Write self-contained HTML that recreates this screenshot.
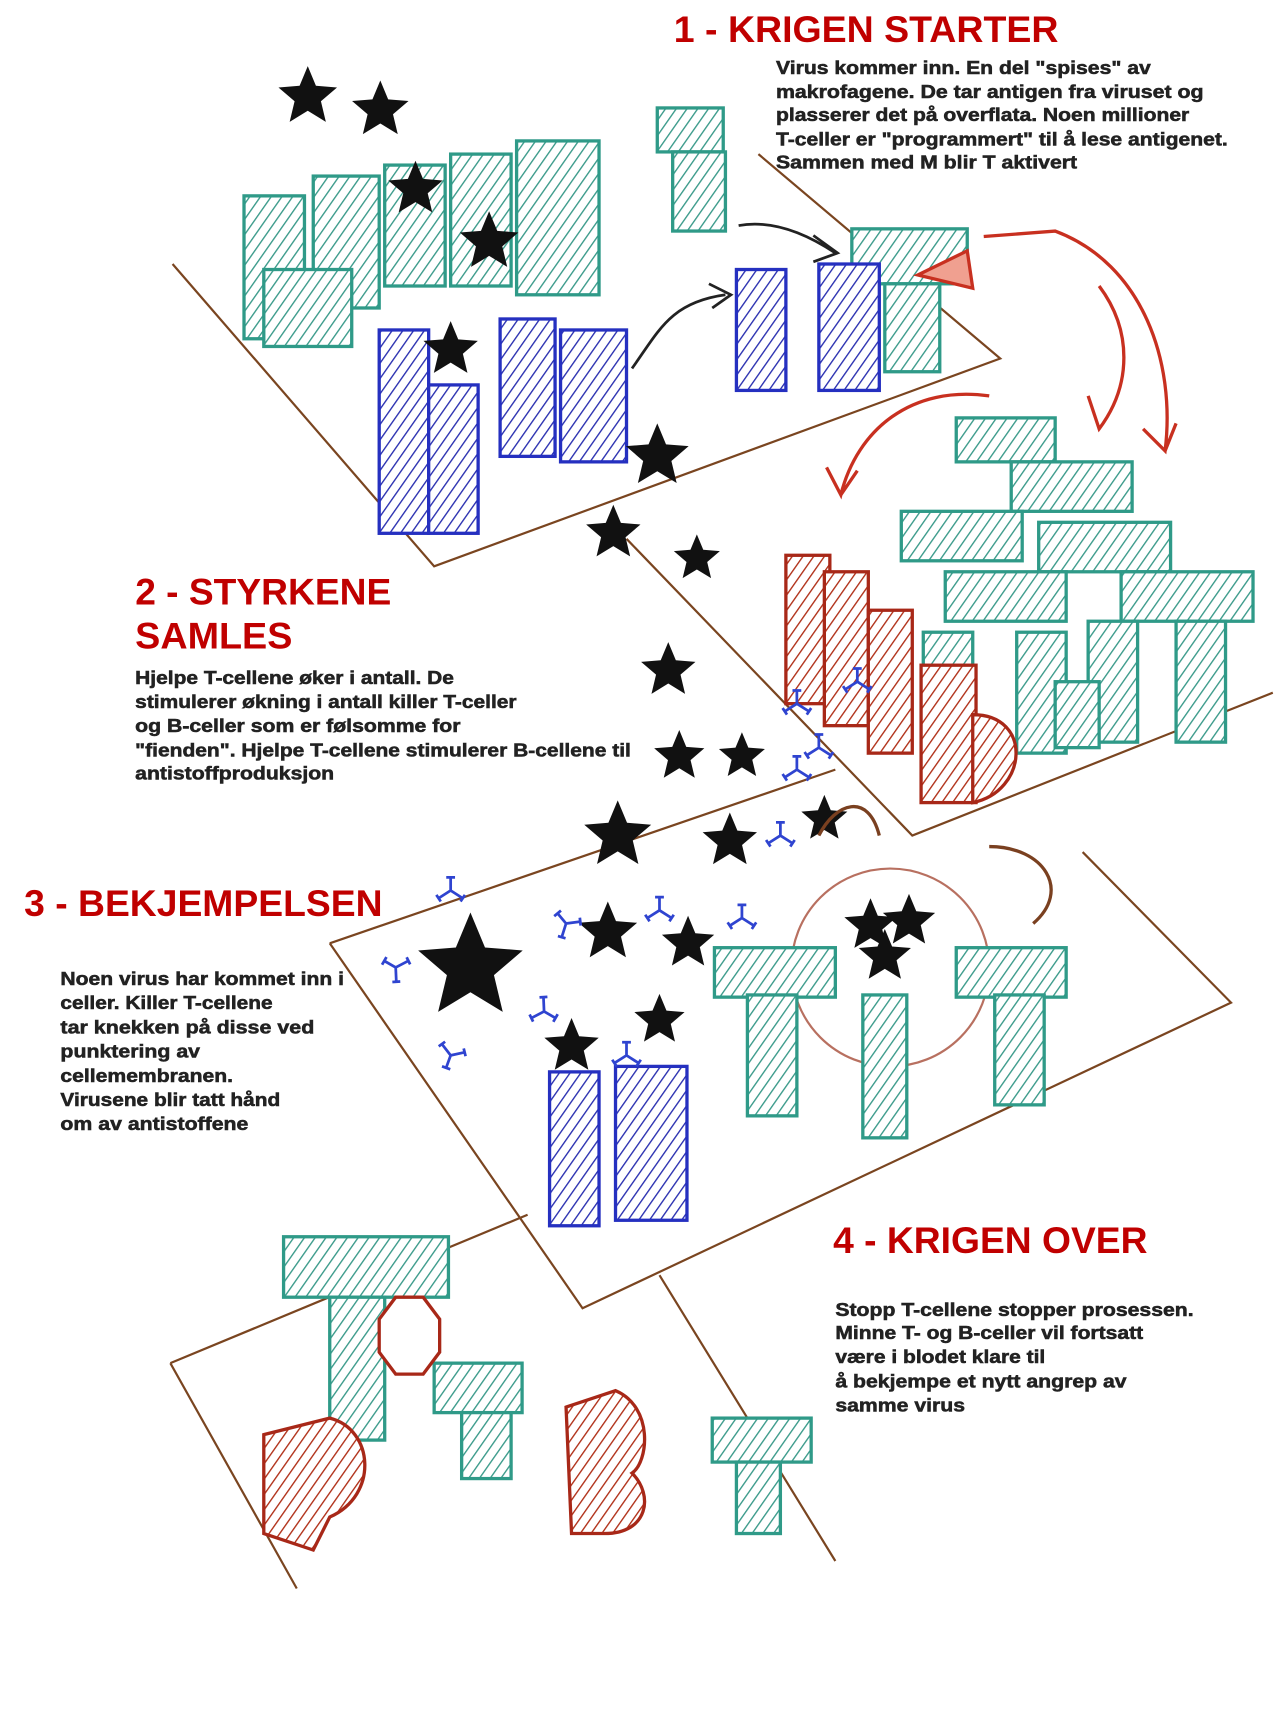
<!DOCTYPE html>
<html><head><meta charset="utf-8"><style>
html,body{margin:0;padding:0;background:#fff}
svg{display:block}
.t{font-family:"Liberation Sans",Arial,sans-serif;font-weight:bold;fill:#c00000;font-size:34px}
.p{font-family:"Liberation Sans",Arial,sans-serif;font-weight:bold;fill:#222;stroke:#222;stroke-width:0.5;font-size:17px}
</style></head><body>
<svg width="1275" height="1725" viewBox="0 0 1160 1569" xmlns="http://www.w3.org/2000/svg">
<defs>
<pattern id="ht" width="8" height="8" patternUnits="userSpaceOnUse" patternTransform="rotate(35)"><rect width="8" height="8" fill="#fff"/><line x1="0" y1="0" x2="0" y2="8" stroke="#3a9a8a" stroke-width="2.5"/></pattern>
<pattern id="hb" width="8" height="8" patternUnits="userSpaceOnUse" patternTransform="rotate(35)"><rect width="8" height="8" fill="#fff"/><line x1="0" y1="0" x2="0" y2="8" stroke="#2a30b0" stroke-width="2.5"/></pattern>
<pattern id="hr" width="8" height="8" patternUnits="userSpaceOnUse" patternTransform="rotate(35)"><rect width="8" height="8" fill="#fff"/><line x1="0" y1="0" x2="0" y2="8" stroke="#b03018" stroke-width="2.5"/></pattern>
<path id="st" d="M0,-1 L.265,-.364 L.951,-.309 L.428,.139 L.588,.809 L0,.45 L-.588,.809 L-.428,.139 L-.951,-.309 L-.265,-.364Z" fill="#111"/>
<g id="ab" fill="none" stroke="#2f44d0" stroke-width="2.5"><path d="M0,0 L0,-12 M0,0 L-11,7 M0,0 L11,7"/><path d="M-4,-12 h8 M-13,4 l4,6 M13,4 l-4,6"/></g>
</defs>
<rect width="1160" height="1569" fill="#fff"/>
<g stroke="#7a4520" stroke-width="2" fill="none">
<path d="M157,240 L395,515 L910,326 L690,140"/>
<path d="M570,490 L830,760 L1158,630"/>
<path d="M300,858 L760,700 M300,858 L530,1190 L1120,912 L985,775"/>
<path d="M155,1240 L480,1105 M155,1240 L270,1445 M600,1160 L760,1420"/>
</g>
<g stroke="#2f9a88" stroke-width="3" fill="url(#ht)">
<rect x="222" y="178" width="55" height="130"/><rect x="285" y="160" width="60" height="120"/><rect x="350" y="150" width="55" height="110"/><rect x="410" y="140" width="55" height="120"/><rect x="470" y="128" width="75" height="140"/><rect x="240" y="245" width="80" height="70"/>
<rect x="598" y="98" width="60" height="40"/><rect x="612" y="138" width="48" height="72"/>
<rect x="775" y="208" width="105" height="50"/><rect x="805" y="258" width="50" height="80"/>
</g>
<g stroke="#2530c0" stroke-width="3" fill="url(#hb)">
<rect x="345" y="300" width="45" height="185"/><rect x="390" y="350" width="45" height="135"/><rect x="455" y="290" width="50" height="125"/><rect x="510" y="300" width="60" height="120"/><rect x="670" y="245" width="45" height="110"/><rect x="745" y="240" width="55" height="115"/><rect x="500" y="975" width="45" height="140"/><rect x="560" y="970" width="65" height="140"/>
</g>
<g stroke="#222" stroke-width="2.5" fill="none"><path d="M575,335 C600,300 610,275 660,268 M645,258 L665,268 L648,280"/><path d="M672,205 C700,200 730,210 760,230 M740,214 L762,230 L740,238"/></g>
<g stroke="#c83020" stroke-width="3" fill="none"><path d="M895,215 L960,210 C1040,240 1070,330 1060,410 L1040,390 M1060,410 L1070,385"/><path d="M1000,260 C1030,300 1030,350 1000,390 L990,360"/><path d="M900,360 C830,350 780,390 765,450 L752,425 M765,450 L780,428"/><path d="M835,250 L880,228 L885,262 Z" fill="#f0a090"/></g>
<g stroke="#2f9a88" stroke-width="3" fill="url(#ht)">
<rect x="870" y="380" width="90" height="40"/><rect x="920" y="420" width="110" height="45"/><rect x="820" y="465" width="110" height="45"/><rect x="945" y="475" width="120" height="45"/><rect x="860" y="520" width="110" height="45"/><rect x="1020" y="520" width="120" height="45"/><rect x="840" y="575" width="45" height="95"/><rect x="925" y="575" width="45" height="110"/><rect x="990" y="565" width="45" height="110"/><rect x="1070" y="565" width="45" height="110"/><rect x="960" y="620" width="40" height="60"/>
</g>
<g stroke="#a82818" stroke-width="3" fill="url(#hr)">
<rect x="715" y="505" width="40" height="135"/><rect x="750" y="520" width="40" height="140"/><rect x="790" y="555" width="40" height="130"/><rect x="838" y="605" width="50" height="125"/><path d="M885,650 C940,650 935,720 885,730 Z"/>
</g>
<g>
<use href="#st" transform="translate(280,88) scale(28)"/><use href="#st" transform="translate(346,100) scale(27)"/><use href="#st" transform="translate(378,172) scale(26)"/><use href="#st" transform="translate(445,220) scale(28)"/><use href="#st" transform="translate(410,318) scale(26)"/><use href="#st" transform="translate(598,415) scale(30)"/><use href="#st" transform="translate(558,485) scale(26)"/><use href="#st" transform="translate(634,508) scale(22)"/><use href="#st" transform="translate(608,610) scale(26)"/><use href="#st" transform="translate(618,688) scale(24)"/><use href="#st" transform="translate(675,688) scale(22)"/><use href="#st" transform="translate(562,760) scale(32)"/><use href="#st" transform="translate(664,765) scale(26)"/><use href="#st" transform="translate(750,745) scale(22)"/><use href="#st" transform="translate(428,880) scale(50)"/><use href="#st" transform="translate(553,848) scale(28)"/><use href="#st" transform="translate(626,858) scale(25)"/><use href="#st" transform="translate(600,928) scale(24)"/><use href="#st" transform="translate(520,952) scale(26)"/><use href="#st" transform="translate(792,842) scale(25)"/><use href="#st" transform="translate(827,838) scale(25)"/><use href="#st" transform="translate(805,870) scale(25)"/>
</g>
<g>
<use href="#ab" transform="translate(410,810)"/><use href="#ab" transform="translate(360,880) rotate(-60)"/><use href="#ab" transform="translate(410,960) rotate(200)"/><use href="#ab" transform="translate(495,920) rotate(120)"/><use href="#ab" transform="translate(515,840) rotate(-40)"/><use href="#ab" transform="translate(600,828)"/><use href="#ab" transform="translate(675,835)"/><use href="#ab" transform="translate(710,760)"/><use href="#ab" transform="translate(725,700)"/><use href="#ab" transform="translate(745,680)"/><use href="#ab" transform="translate(725,640)"/><use href="#ab" transform="translate(780,620)"/><use href="#ab" transform="translate(570,960)"/>
</g>
<circle cx="810" cy="880" r="90" fill="none" stroke="#b87060" stroke-width="2"/>
<path d="M745,760 C760,730 790,720 800,760 M900,770 C950,770 975,810 940,840" fill="none" stroke="#7a4020" stroke-width="3"/>
<g stroke="#2f9a88" stroke-width="3" fill="url(#ht)">
<rect x="650" y="862" width="110" height="45"/><rect x="680" y="905" width="45" height="110"/><rect x="870" y="862" width="100" height="45"/><rect x="905" y="905" width="45" height="100"/><rect x="785" y="905" width="40" height="130"/>
</g>
<g stroke="#2f9a88" stroke-width="3" fill="url(#ht)">
<rect x="258" y="1125" width="150" height="55"/><rect x="300" y="1180" width="50" height="130"/><rect x="395" y="1240" width="80" height="45"/><rect x="420" y="1285" width="45" height="60"/><rect x="648" y="1290" width="90" height="40"/><rect x="670" y="1330" width="40" height="65"/>
</g>
<g stroke="#a82818" stroke-width="3" fill="url(#hr)">
<polygon points="360,1180 385,1180 400,1200 400,1230 385,1250 360,1250 345,1230 345,1200" fill="#fff"/>
<path d="M240,1305 L300,1290 C340,1300 345,1360 300,1380 L285,1410 L240,1395 Z"/>
<path d="M515,1280 L560,1265 C595,1280 590,1330 575,1340 C595,1360 590,1395 550,1395 L520,1395 Z"/>
</g>
<text class="t" x="613" y="38" textLength="350" lengthAdjust="spacingAndGlyphs">1 - KRIGEN STARTER</text>
<g class="p">
<text x="706" y="67" textLength="341" lengthAdjust="spacingAndGlyphs">Virus kommer inn. En del "spises" av</text>
<text x="706" y="89" textLength="389" lengthAdjust="spacingAndGlyphs">makrofagene. De tar antigen fra viruset og</text>
<text x="706" y="110" textLength="376" lengthAdjust="spacingAndGlyphs">plasserer det på overflata. Noen millioner</text>
<text x="706" y="132" textLength="411" lengthAdjust="spacingAndGlyphs">T-celler er "programmert" til å lese antigenet.</text>
<text x="706" y="153" textLength="274" lengthAdjust="spacingAndGlyphs">Sammen med M blir T aktivert</text>
</g>
<text class="t" x="123" y="550" textLength="233" lengthAdjust="spacingAndGlyphs">2 - STYRKENE</text>
<text class="t" x="123" y="590" textLength="143" lengthAdjust="spacingAndGlyphs">SAMLES</text>
<g class="p">
<text x="123" y="622" textLength="290" lengthAdjust="spacingAndGlyphs">Hjelpe T-cellene øker i antall. De</text>
<text x="123" y="644" textLength="347" lengthAdjust="spacingAndGlyphs">stimulerer økning i antall killer T-celler</text>
<text x="123" y="666" textLength="296" lengthAdjust="spacingAndGlyphs">og B-celler som er følsomme for</text>
<text x="123" y="688" textLength="451" lengthAdjust="spacingAndGlyphs">"fienden". Hjelpe T-cellene stimulerer B-cellene til</text>
<text x="123" y="709" textLength="181" lengthAdjust="spacingAndGlyphs">antistoffproduksjon</text>
</g>
<text class="t" x="22" y="833" textLength="326" lengthAdjust="spacingAndGlyphs">3 - BEKJEMPELSEN</text>
<g class="p">
<text x="55" y="896" textLength="258" lengthAdjust="spacingAndGlyphs">Noen virus har kommet inn i</text>
<text x="55" y="918" textLength="193" lengthAdjust="spacingAndGlyphs">celler. Killer T-cellene</text>
<text x="55" y="940" textLength="231" lengthAdjust="spacingAndGlyphs">tar knekken på disse ved</text>
<text x="55" y="962" textLength="127" lengthAdjust="spacingAndGlyphs">punktering av</text>
<text x="55" y="984" textLength="157" lengthAdjust="spacingAndGlyphs">cellemembranen.</text>
<text x="55" y="1006" textLength="200" lengthAdjust="spacingAndGlyphs">Virusene blir tatt hånd</text>
<text x="55" y="1028" textLength="171" lengthAdjust="spacingAndGlyphs">om av antistoffene</text>
</g>
<text class="t" x="758" y="1140" textLength="286" lengthAdjust="spacingAndGlyphs">4 - KRIGEN OVER</text>
<g class="p">
<text x="760" y="1197" textLength="326" lengthAdjust="spacingAndGlyphs">Stopp T-cellene stopper prosessen.</text>
<text x="760" y="1218" textLength="280" lengthAdjust="spacingAndGlyphs">Minne T- og B-celler vil fortsatt</text>
<text x="760" y="1240" textLength="191" lengthAdjust="spacingAndGlyphs">være i blodet klare til</text>
<text x="760" y="1262" textLength="265" lengthAdjust="spacingAndGlyphs">å bekjempe et nytt angrep av</text>
<text x="760" y="1284" textLength="118" lengthAdjust="spacingAndGlyphs">samme virus</text>
</g>
</svg>
</body></html>
